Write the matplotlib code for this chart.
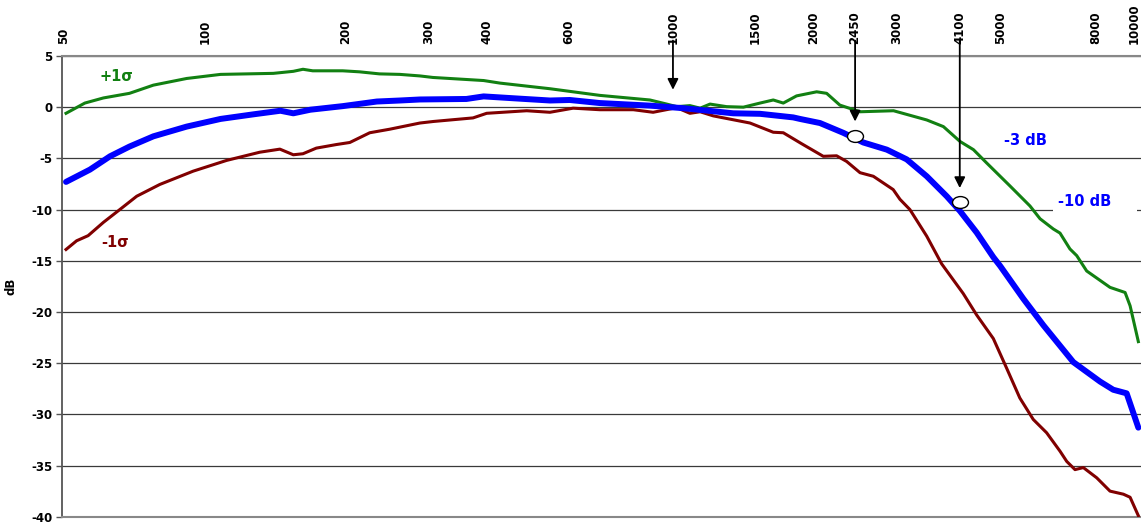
import numpy as np
import matplotlib
matplotlib.use("Agg")
from matplotlib import pyplot as plt
from matplotlib.path import Path
from matplotlib.transforms import Affine2D

# +1 sigma (green)
f_up = [50.5, 55.4, 60.7, 69, 77.6, 91.4, 108, 123, 140, 154.5, 162, 170, 197, 214, 236, 261, 288,
        307, 394, 427, 546, 698, 893, 970, 1019, 1087, 1143, 1200, 1302, 1414, 1535, 1638, 1721,
        1837, 2028, 2130, 2273, 2510, 2960, 3485, 3783, 4105, 4385, 4680, 5250, 5791, 6086, 6497,
        6714, 7050, 7289, 7655, 8586, 9247, 9478, 9870]
db_up = [-0.6, 0.4, 0.9, 1.35, 2.15, 2.8, 3.2, 3.25, 3.3, 3.5, 3.7, 3.55, 3.55, 3.45, 3.25, 3.2, 3.05,
         2.9, 2.6, 2.35, 1.8, 1.15, 0.7, 0.3, 0.05, 0.15, -0.1, 0.3, 0.05, 0.0, 0.4, 0.7, 0.4,
         1.1, 1.5, 1.35, 0.2, -0.45, -0.35, -1.25, -1.9, -3.35, -4.15, -5.45, -7.7, -9.65, -10.9, -11.9,
         -12.3, -13.85, -14.5, -16.0, -17.6, -18.1, -19.4, -22.9]

# mean (blue)
f_mean = [50.5, 56.8, 62.7, 69, 77.6, 91.4, 108, 127, 145, 154.5, 168, 197, 233, 261, 288, 362, 394,
          463, 546, 602, 698, 893, 1052, 1345, 1535, 1807, 1868, 2061, 2310, 2551, 2864, 3158, 3485,
          3845, 4105, 4456, 4836, 5000, 5603, 6186, 7168, 8176, 8725, 9318, 9870]
db_mean = [-7.3, -6.1, -4.8, -3.85, -2.85, -1.9, -1.15, -0.7, -0.35, -0.6, -0.25, 0.1, 0.55, 0.65, 0.75,
           0.8, 1.05, 0.85, 0.65, 0.7, 0.4, 0.15, -0.1, -0.6, -0.65, -1.0, -1.15, -1.55, -2.5, -3.45,
           -4.15, -5.1, -6.75, -8.7, -10.15, -12.25, -14.65, -15.5, -18.7, -21.3, -24.9, -26.8, -27.6,
           -27.95, -31.3]

# -1 sigma (dark red)
f_low = [50.5, 53.2, 56.3, 60.7, 65.8, 71.5, 80.1, 94.4, 111.3, 131, 144.6, 154.5, 162, 173, 191, 204,
         225, 248.5, 261, 288, 307.5, 374, 400, 487, 546, 612, 698, 823, 907, 1019, 1087, 1143, 1219,
         1461, 1638, 1721, 1880, 2095, 2237, 2350, 2510, 2680, 2955, 3055, 3208, 3485, 3750, 4170,
         4456, 4836, 5164, 5509, 5886, 6286, 6714, 6940, 7228, 7530, 8043, 8586, 9170, 9478, 9870]
db_low = [-13.9, -13.05, -12.55, -11.25, -10.0, -8.7, -7.55, -6.25, -5.2, -4.4, -4.1, -4.65, -4.55, -4.0,
          -3.65, -3.45, -2.5, -2.15, -1.95, -1.55, -1.4, -1.05, -0.6, -0.35, -0.5, -0.1, -0.25, -0.25,
          -0.5, -0.05, -0.6, -0.45, -0.85, -1.55, -2.45, -2.5, -3.55, -4.8, -4.75, -5.3, -6.4, -6.75,
          -8.05, -9.0, -10.0, -12.6, -15.3, -18.2, -20.3, -22.6, -25.5, -28.4, -30.5, -31.8, -33.6,
          -34.6, -35.4, -35.2, -36.2, -37.5, -37.8, -38.1, -39.9]

xticks = [50, 100, 200, 300, 400, 600, 1000, 1500, 2000, 2450, 3000, 4100, 5000, 8000, 10000]
yticks = list(range(-40, 6, 5))

# arrows: frequency, tip level
arrow_f = [1000, 2450, 4100]
arrow_db = [1.7, -1.4, -7.9]
# circle markers
circ_f = [2450, 4100]
circ_db = [-2.8, -9.3]

fig = plt.figure(figsize=(11.41, 5.23), dpi=100)
ax = fig.add_axes([0.0543, 0.012, 0.9457, 0.881])

ax.set_xscale("log")
ax.set_xlim(49.5, 10000)
ax.set_ylim(-40, 5)

for y in yticks:
    ax.axhline(y, color="#3a3a3a", lw=0.9, zorder=1)

ax.plot(f_up, db_up, color="#128012", lw=2.2, solid_joinstyle="round", zorder=3)
ax.plot(f_low, db_low, color="#800000", lw=2.2, solid_joinstyle="round", zorder=3)
ax.plot(f_mean, db_mean, color="#0000ff", lw=4.3, solid_joinstyle="round", solid_capstyle="round", zorder=4)

ell = Path.unit_circle().transformed(Affine2D().scale(1.35, 1.0))
ax.plot(circ_f, circ_db, ls="none", marker=ell, markersize=11.5, mfc="white", mec="black",
        mew=1.0, zorder=6)

for f, d in zip(arrow_f, arrow_db):
    ax.annotate("", xy=(f, d), xytext=(f, 6.5), annotation_clip=False,
                arrowprops=dict(arrowstyle="-|>", color="black", lw=1.3, mutation_scale=16,
                                shrinkA=0, shrinkB=0), zorder=7)

ax.text(64.7, 3.0, "+1σ", color="#128012", fontsize=10.5, fontweight="bold", ha="center", va="center")
ax.text(64.2, -13.2, "-1σ", color="#800000", fontsize=10.5, fontweight="bold", ha="center", va="center")
ax.text(5671, -3.27, "-3 dB", color="#0000ff", fontsize=10.5, fontweight="bold", ha="center", va="center")
ax.text(6646, -9.26, "-10 dB    ", color="#0000ff", fontsize=10.5, fontweight="bold", ha="left",
        va="center", zorder=5,
        bbox=dict(boxstyle="square,pad=0.35", facecolor="white", edgecolor="none"))

ax.minorticks_off()
ax.xaxis.tick_top()
ax.set_xticks(xticks)
ax.set_xticklabels([str(v) for v in xticks], rotation=90, fontsize=8.5, fontweight="bold")
ax.get_xticklabels()[-1].set_horizontalalignment("right")
ax.tick_params(axis="x", length=0, pad=8.6)
ax.set_yticks(yticks)
ax.set_yticklabels([str(v) for v in yticks], fontsize=8.5, fontweight="bold")
ax.tick_params(axis="y", length=4, width=1, color="#555555", pad=3)
ax.set_ylabel("dB", fontsize=8.5, fontweight="bold", labelpad=10)

ax.spines["right"].set_visible(False)
ax.spines["left"].set_color("#555555")
ax.spines["left"].set_linewidth(1.3)
ax.spines["top"].set_color("#888888")
ax.spines["top"].set_linewidth(1.5)
ax.spines["bottom"].set_color("#888888")
ax.spines["bottom"].set_linewidth(1.5)

fig.savefig("out.png", dpi=100)
